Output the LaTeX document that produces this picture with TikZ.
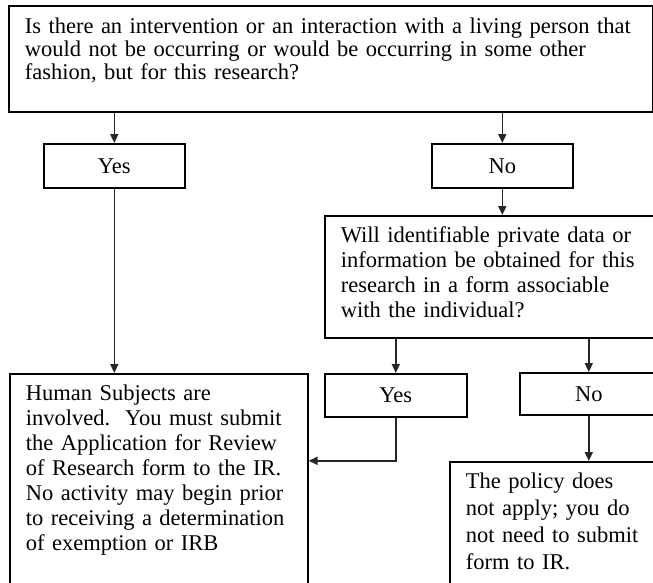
\documentclass[tikz,border=0pt]{standalone}
\usepackage{fontspec}
\setmainfont{Liberation Serif}
\usetikzlibrary{arrows.meta}
\tikzset{>={Triangle[length=9pt,width=8pt]}}
\tikzset{box/.style={draw, line width=1.6pt, anchor=north west, inner sep=0pt, font=\fontsize{22.5}{25}\selectfont}}
\tikzset{txtbox/.style={box, align=left, inner xsep=16pt, inner ysep=11pt, text height=16pt,
  execute at begin node={\frenchspacing\hyphenpenalty=10000\relax}}}
\tikzset{ans/.style={box, align=center}}
\tikzset{ln/.style={->, line width=1.6pt, draw=black!85}}

\begin{document}
\begin{tikzpicture}[x=1pt, y=-1pt]
        \useasboundingbox (0,0) rectangle (653,582);
        \clip (0,0) rectangle (653,582);

        \node[txtbox, text width=612pt, text depth=66pt, inner ysep=12pt, font=\fontsize{22.5}{23}\selectfont] (q1) at (8,5)
          {Is there an intervention or an interaction with a living person that\\
           would not be occurring or would be occurring in some other\\
           fashion, but for this research?};

        \node[ans, minimum width=141pt, minimum height=44pt] (yes1) at (43,143) {Yes};
        \node[ans, minimum width=141pt, minimum height=44pt] (no1) at (431,143) {No};

        \node[txtbox, text width=304pt, text depth=84pt] (q2) at (324,215)
          {Will identifiable private data or\\
           information be obtained for this\\
           research in a form associable\\
           with the individual?};

        \node[ans, minimum width=142pt, minimum height=43pt] (yes2) at (324,373) {Yes};
        \node[ans, minimum width=138pt, minimum height=42pt] (no2) at (519,372) {No};

        \node[txtbox, text width=266pt, text depth=202pt] (human) at (9,373)
          {Human Subjects are\\
           involved.~ You must submit\\
           the Application for Review\\
           of Research form to the IR.\\
           No activity may begin prior\\
           to receiving a determination\\
           of exemption or IRB};

        \node[txtbox, text width=220pt, text depth=112pt, font=\fontsize{22.5}{27}\selectfont] (policy) at (449,461)
          {The policy does\\
           not apply; you do\\
           not need to submit\\
           form to IR.};

        \draw[ln] (yes1.north |- q1.south) -- (yes1.north);
        \draw[ln] (no1.north |- q1.south) -- (no1.north);
        \draw[ln] (no1.south) -- (no1.south |- q2.north);
        \draw[ln] (yes1.south) -- (yes1.south |- human.north);
        \draw[ln] (yes2.north |- q2.south) -- (yes2.north);
        \draw[ln] (no2.north |- q2.south) -- (no2.north);
        \draw[ln] (yes2.south) |- ([yshift=33pt]human.east);
        \draw[ln] (no2.south) -- (no2.south |- policy.north);
\end{tikzpicture}
\end{document}
